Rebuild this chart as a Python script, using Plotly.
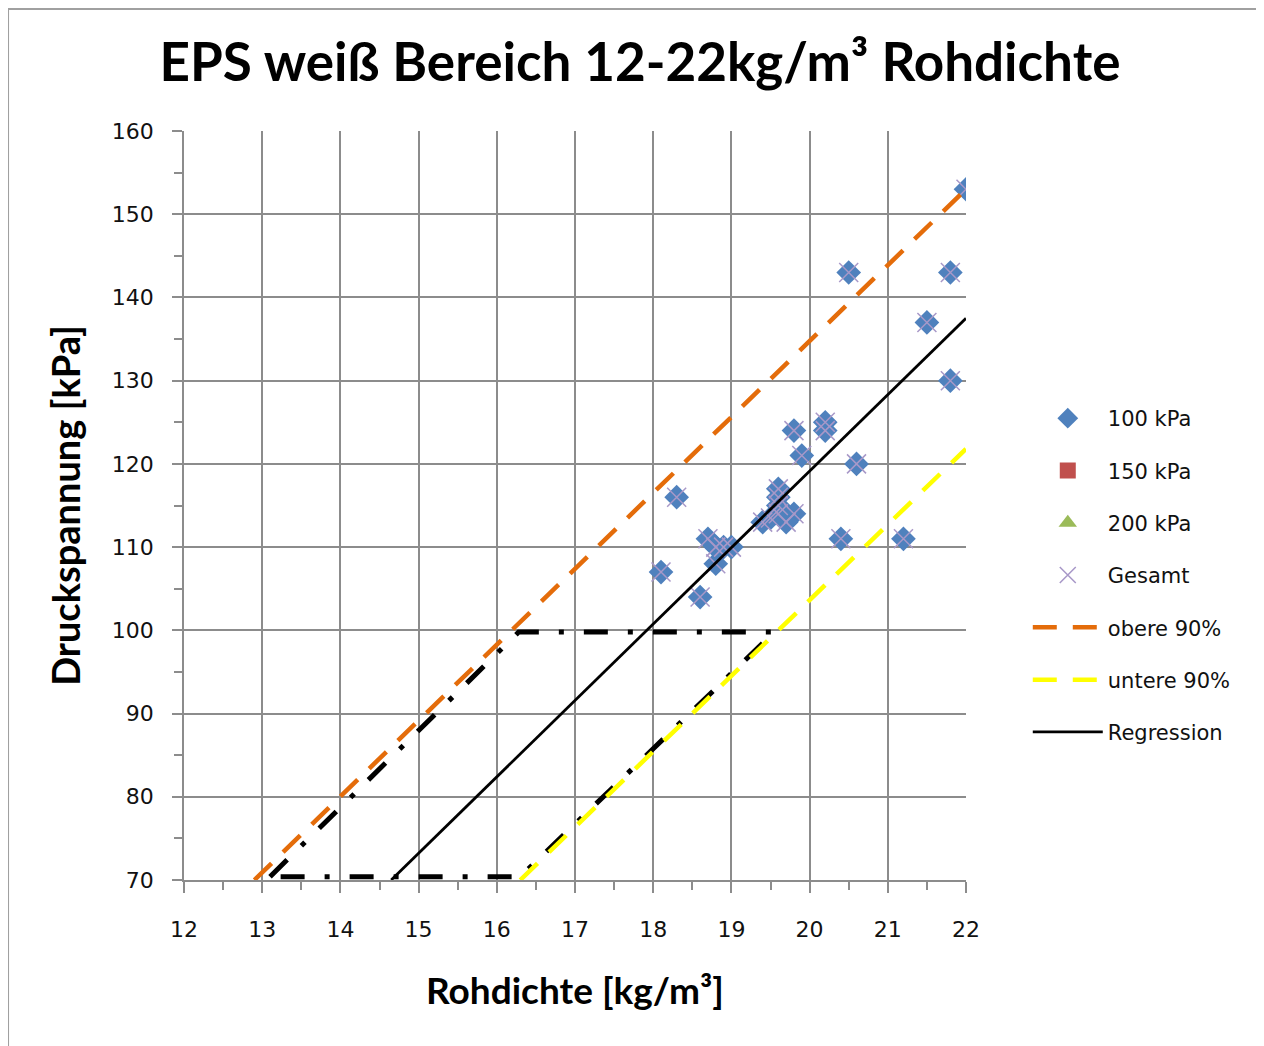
import plotly.graph_objects as go

# ---- data ----
x_100 = [22.0, 20.5, 21.8, 21.5, 21.8, 19.8, 20.2, 20.2, 19.9, 20.6, 19.6, 18.3,
         19.6, 19.8, 19.7, 19.4, 19.6, 19.5, 18.7, 18.8, 18.9, 19.0, 18.8, 18.1,
         18.6, 20.4, 21.2, 19.6]
y_100 = [153, 143, 143, 137, 130, 124, 125, 124, 121, 120, 117, 116,
         115, 114, 113, 113, 114, 113.5, 111, 110, 110, 110, 108, 107,
         104, 111, 111, 116]
x_gesamt = list(x_100)
y_gesamt = list(y_100)

obere_x = [12.9, 22.0]
obere_y = [70.0, 153.0]
untere_x = [16.3, 22.0]
untere_y = [70.0, 121.8]
regr_x = [14.65, 22.0]
regr_y = [70.0, 137.5]
box_x = [13.1, 16.28, 19.55, 16.3, 13.1]
box_y = [70.4, 99.8, 99.8, 70.4, 70.4]

x_ticks = list(range(12, 23))
y_ticks = list(range(70, 161, 10))

fig = go.Figure()

fig.add_trace(go.Scatter(x=box_x, y=box_y, mode="lines", showlegend=False,
                         line=dict(color="black", width=5, dash="24px,20px,5px,20px")))
fig.add_trace(go.Scatter(x=x_100, y=y_100, mode="markers", name="100 kPa", legendgroup="a",
                         marker=dict(symbol="diamond", size=19, color="#4F81BD")))
fig.add_trace(go.Scatter(x=[None], y=[None], mode="markers", name="150 kPa", legendgroup="b",
                         marker=dict(symbol="square", size=16, color="#C0504D")))
fig.add_trace(go.Scatter(x=[None], y=[None], mode="markers", name="200 kPa", legendgroup="c",
                         marker=dict(symbol="triangle-up", size=17, color="#9BBB59")))
fig.add_trace(go.Scatter(x=x_gesamt, y=y_gesamt, mode="markers", name="Gesamt", legendgroup="d",
                         marker=dict(symbol="x-thin", size=19, color="#A898C8",
                                     line=dict(color="#A898C8", width=1.5))))
fig.add_trace(go.Scatter(x=obere_x, y=obere_y, mode="lines", name="obere 90%", legendgroup="e",
                         line=dict(color="#E46C0A", width=4.5, dash="24px,16px")))
fig.add_trace(go.Scatter(x=untere_x, y=untere_y, mode="lines", name="untere 90%", legendgroup="f",
                         line=dict(color="#FFFF00", width=4.5, dash="24px,16px")))
fig.add_trace(go.Scatter(x=regr_x, y=regr_y, mode="lines", name="Regression", legendgroup="g",
                         line=dict(color="black", width=2.8)))

grid = "#8C8C8C"
W, H = 1256, 1038
fig.update_layout(
    width=W, height=H,
    margin=dict(l=176, r=298, t=123, b=166),
    paper_bgcolor="white", plot_bgcolor="white",
    title=dict(text="<b>EPS weiß Bereich 12-22kg/m³ Rohdichte</b>", x=(640 - 8) / W, xref="container",
               y=1 - (62 - 8) / H, yref="container", yanchor="middle", xanchor="center",
               font=dict(family="Lato", size=53, color="black")),
    xaxis=dict(range=[12, 22], tickvals=x_ticks, showgrid=True, gridcolor=grid, gridwidth=1.5,
               showline=True, linecolor=grid, linewidth=1.5, ticks="outside", ticklen=11,
               tickcolor=grid, tickwidth=1.5, ticklabelstandoff=18,
               tickfont=dict(family="DejaVu Sans", size=22, color="#111"),
               minor=dict(dtick=0.5, ticks="outside", ticklen=8, tickcolor=grid, tickwidth=1.5, showgrid=False),
               title=dict(text="<b>Rohdichte [kg/m³]</b>", font=dict(family="Lato", size=37, color="black"),
                          standoff=37),
               zeroline=False),
    yaxis=dict(range=[70, 160], tickvals=y_ticks, showgrid=True, gridcolor=grid, gridwidth=1.5,
               showline=True, linecolor=grid, linewidth=1.5, ticks="outside", ticklen=10,
               tickcolor=grid, tickwidth=1.5, ticklabelstandoff=14,
               tickfont=dict(family="DejaVu Sans", size=22, color="#111"),
               minor=dict(dtick=5, ticks="outside", ticklen=8, tickcolor=grid, tickwidth=1.5, showgrid=False),
               title=dict(text="<b>Druckspannung [kPa]</b>", font=dict(family="Lato", size=38, color="black"),
                          standoff=20),
               zeroline=False),
    legend=dict(x=1.079, y=0.6435, xanchor="left", yanchor="top",
                font=dict(family="DejaVu Sans", size=21, color="#111"),
                tracegroupgap=22, itemwidth=70, bgcolor="rgba(0,0,0,0)"),
    shapes=[dict(type="rect", xref="paper", yref="paper", x0=-0.225, x1=1.4, y0=-0.4, y1=1.163,
                 line=dict(color="#A0A0A0", width=2), fillcolor="rgba(0,0,0,0)", layer="below")],
)

fig.write_html("out.html")
